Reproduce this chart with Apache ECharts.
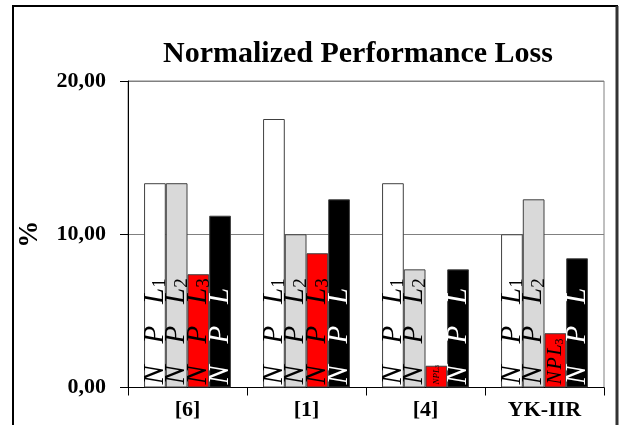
<!DOCTYPE html>
<html>
<head>
<meta charset="utf-8">
<script src="https://cdn.jsdelivr.net/npm/echarts@6/dist/echarts.min.js"></script>
<style>
  html, body { margin: 0; padding: 0; background: #fff; }
  #chart { width: 623px; height: 425px; }
</style>
</head>
<body>
<div id="chart"></div>
<script>
// Normalized performance loss (%) per method
const categories = ['[6]', '[1]', '[4]', 'YK-IIR'];
const seriesNames = ['NPL1', 'NPL2', 'NPL3', 'NPL'];
const npl1 = [13.33, 17.52, 13.33, 10.0];
const npl2 = [13.33, 10.0, 7.71, 12.28];
const npl3 = [7.39, 8.76, 1.42, 3.54];
const npl = [11.21, 12.28, 7.71, 8.43];
const yTicks = [0, 10, 20];

const SERIF = '"Liberation Serif", "Times New Roman", serif';
const barFill = ['#ffffff', '#d9d9d9', '#ff0000', '#000000'];
const labelColor = ['#000', '#000', '#000', '#fff'];
const subscripts = ['1', '2', '3', ''];

// label sizes for the short bars (by series / data index)
const compact = { 2: { 2: 'tiny', 3: 'small' } };

function richFor(color) {
  return {
    t: { fontFamily: SERIF, fontStyle: 'italic', fontSize: 29, color: color, lineHeight: 30 },
    u: { fontFamily: SERIF, fontSize: 19, color: color, verticalAlign: 'bottom', lineHeight: 30 },
    ts: { fontFamily: SERIF, fontStyle: 'italic', fontSize: 20, color: color, lineHeight: 20 },
    us: { fontFamily: SERIF, fontSize: 12, color: color, verticalAlign: 'bottom', lineHeight: 20 },
    tt: { fontFamily: SERIF, fontStyle: 'italic', fontSize: 9, color: color, lineHeight: 9 },
    ut: { fontFamily: SERIF, fontSize: 6, color: color, verticalAlign: 'bottom', lineHeight: 9 }
  };
}

const seriesData = [npl1, npl2, npl3, npl];

const chart = echarts.init(document.getElementById('chart'), null, { renderer: 'canvas' });

chart.setOption({
  backgroundColor: '#ffffff',
  animation: false,
  title: {
    text: 'Normalized Performance Loss',
    left: 158,
    top: 34,
    textStyle: { fontFamily: SERIF, fontWeight: 'bold', fontSize: 30, color: '#000' }
  },
  grid: {
    left: 128, right: 19, top: 81, bottom: 37.5,
    outerBoundsMode: 'none',
    containLabel: false,
    show: true, borderColor: '#808080', borderWidth: 1, backgroundColor: 'transparent'
  },
  xAxis: {
    type: 'category',
    data: categories,
    axisLine: { lineStyle: { color: '#000', width: 1 } },
    axisTick: { show: true, length: 8, alignWithLabel: false, lineStyle: { color: '#000' } },
    axisLabel: { fontFamily: SERIF, fontWeight: 'bold', fontSize: 22, color: '#000', margin: 12 }
  },
  yAxis: {
    type: 'value',
    min: yTicks[0],
    max: yTicks[yTicks.length - 1],
    interval: yTicks[1] - yTicks[0],
    name: '%',
    nameLocation: 'middle',
    nameRotate: 90,
    nameGap: 84,
    nameMoveOverlap: false,
    nameTextStyle: { fontFamily: SERIF, fontWeight: 'bold', fontSize: 27, color: '#000' },
    axisLine: { show: true, lineStyle: { color: '#000', width: 1 } },
    axisTick: { show: true, length: 8, inside: false, lineStyle: { color: '#000' } },
    axisLabel: {
      fontFamily: SERIF, fontWeight: 'bold', fontSize: 22, color: '#000', margin: 22,
      formatter: v => v.toFixed(2).replace('.', ',')
    },
    splitLine: { show: true, lineStyle: { color: '#808080', width: 1 } }
  },
  series: seriesData.map((vals, si) => ({
    name: seriesNames[si],
    type: 'bar',
    data: vals,
    barGap: '0%',
    barCategoryGap: '27%',
    itemStyle: { color: barFill[si], borderColor: '#404040', borderWidth: 1 },
    label: {
      show: true,
      position: 'insideBottom',
      rotate: 90,
      align: 'left',
      verticalAlign: 'middle',
      distance: 3,
      rich: richFor(labelColor[si]),
      formatter: p => {
        const size = compact[si] && compact[si][p.dataIndex];
        if (size === 'tiny') return '{tt|NPL}{ut|' + subscripts[si] + '}';
        if (size === 'small') return '{ts|N\u200aP\u200aL}{us|' + subscripts[si] + '}';
        return subscripts[si]
          ? '{t|N   P   L}{u|' + subscripts[si] + '}'
          : '{t|N   P   L}';
      }
    }
  })),
  graphic: [
    {
      type: 'rect',
      shape: { x: 13, y: 6, width: 604, height: 440 },
      style: { fill: 'none', stroke: '#000', lineWidth: 2 },
      silent: true
    },
    {
      type: 'line',
      shape: { x1: 617, y1: 6, x2: 617, y2: 425 },
      style: { stroke: '#333', lineWidth: 3 },
      silent: true
    }
  ]
});
</script>
</body>
</html>
